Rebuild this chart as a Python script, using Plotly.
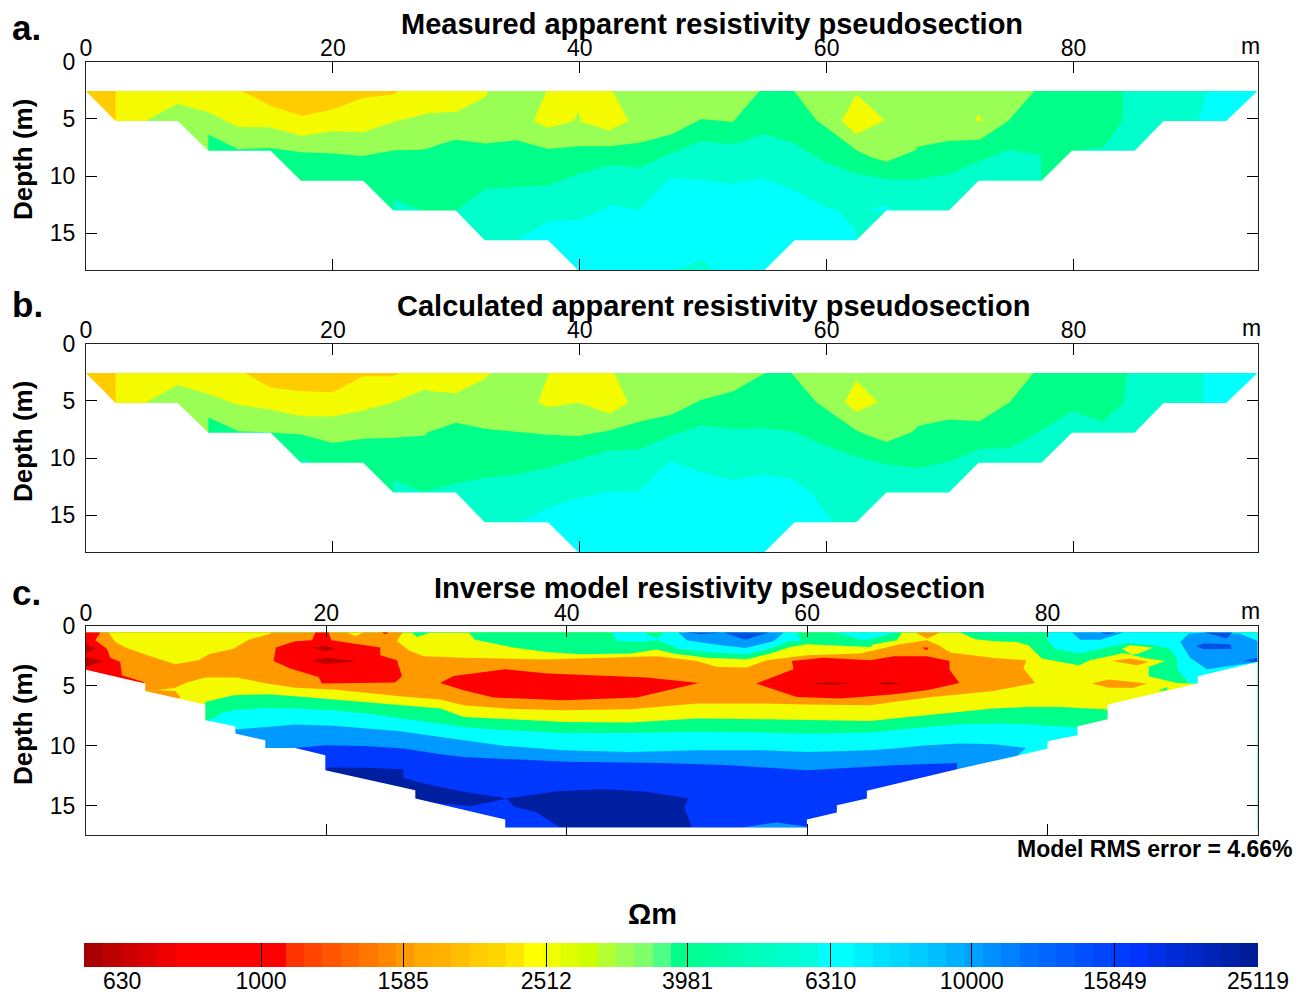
import plotly.graph_objects as go

W, H = 1303, 994
ORANGE_A = "#FFCC00"; YELLOW = "#F4FB00"; LIME = "#99FF55"; GREEN = "#00FF88"; TEAL = "#00FFCC"; CYAN = "#00FFFF"
ORANGE = "#FF9900"; RED = "#FF0000"; DKRED = "#BB0000"; SKY = "#0099FF"; BLUE = "#0038FF"; DKBLUE = "#001EA0"; MIDBLUE = "#0050E8"

XTICKS = [0, 20, 40, 60, 80]
YTICKS = [0, 5, 10, 15]
TITLES = ["Measured apparent resistivity pseudosection", "Calculated apparent resistivity pseudosection", "Inverse model resistivity pseudosection"]

# ---- panel a: band outlines, (distance m, depth m)
AB_ENVELOPE = [(-1,2.58),(0,2.58),(2.4,5.2),(7.43,5.2),(9.91,7.8),(14.96,7.8),(17.41,10.4),(22.46,10.4),(24.89,13),(29.96,13),(32.3,15.6),(37.43,15.6),(39.86,18.2),(54.97,18.2),(57.4,15.6),(62.4,15.6),(64.83,13),(69.9,13),(72.3,10.4),(77.4,10.4),(79.86,7.8),(84.94,7.8),(87.3,5.2),(92.36,5.2),(94.9,2.58),(96,2.58),(96,19),(-1,19)]
AB_BASE = [(0,2.58),(94.9,2.58),(94.9,18.2),(0,18.2)]
A_TEAL = [(0,2.58),(0,18.2),(34.87,18.2),(34.87,15.63),(37.43,13.98),(39.86,13.83),(41.9,12.96),(42.4,12.53),(44.85,12.96),(47.3,10.2),(49.85,10.35),(52.4,10.7),(54.84,10.2),(57.27,11.16),(59.83,12.67),(60.9,13.02),(62.4,14.7),(62.4,18.2),(90.12,18.2),(90.12,5.19),(90.88,2.58)]
A_CYAN_SLIVER = [(63.1,13.02),(64.8,12.6),(65.5,13.02)]
A_TEAL_BOTTOM = [(47.8,18.2),(49.9,17.3),(50.8,18.2)]
A_GREEN = [(0,2.58),(0,18.2),(29.96,18.2),(29.96,13.02),(32.3,11.13),(34.87,10.93),(37.43,10.82),(39.86,9.83),(42.42,9.05),(44.85,9.25),(47.3,8.03),(49.85,6.96),(52.4,7.22),(54.84,6.35),(57.27,7.1),(59.83,8.76),(62.4,9.77),(64.83,10.27),(67.4,10.27),(69.96,9.83),(72.4,8.7),(74.8,7.69),(77.38,8.18),(77.38,18.2),(79.86,18.2),(79.86,7.8),(82.37,7.48),(83.99,5.19),(83.99,2.58)]
A_TEAL_LEFT = [(24.9,12),(27.2,13),(24.9,13)]
A_LIME_L = [(0,2.58),(0,18.2),(9.91,18.2),(9.91,6.38),(12.34,7.66),(14.9,7.54),(17.47,7.92),(19.95,8.03),(22.46,8.24),(24.89,7.77),(27.45,7.69),(28.67,7.22),(29.96,6.82),(32.3,7.16),(34.87,6.87),(37.43,7.63),(39.86,7.4),(42.42,7.4),(44.85,7.1),(47.42,6.38),(49.85,5.02),(52.4,5.28),(54.57,2.58)]
A_LIME_R = [(57.35,2.58),(59.16,5.13),(59.83,5.63),(62.4,7.74),(63.48,8.32),(64.83,8.76),(67.12,7.8),(67.4,7.45),(69.82,6.93),(72.4,6.82),(74.68,5.22),(76.84,2.58)]
A_YELLOW = [(0,2.58),(0,18.2),(4.78,18.2),(4.78,5.19),(7.43,3.69),(9.91,4.44),(12.34,5.71),(14.9,5.74),(17.47,6.5),(19.95,6.09),(22.46,6.15),(24.89,5.28),(27.45,4.61),(27.85,4.5),(29.96,4.41),(32.3,3.11),(32.65,2.58)]
A_YEL_1 = [(37.3,2.58),(36.27,5.19),(37.43,5.8),(39.51,5.19),(39.86,4.41),(40.13,5.28),(42.37,6.0),(43.96,5.19),(42.64,2.58)]
A_YEL_2 = [(62.4,2.87),(61.2,5.19),(62.4,6.35),(64.7,5.13)]
A_YEL_3 = [(72.0,5.19),(72.3,4.6),(72.6,5.25)]
A_OR_EDGE = [(0,2.58),(2.4,2.58),(2.4,5.2),(0,5.2)]
A_OR_TOP = [(12.6,2.58),(14.9,3.83),(17.5,4.75),(19.95,4.2),(22.5,3.16),(24.9,2.87),(25.3,2.58)]

# ---- panel b
B_TEAL = [(0,2.58),(0,18.2),(35.27,18.2),(35.27,15.56),(37.43,14.34),(39.86,13.53),(42.42,12.95),(44.85,12.89),(47.3,10.26),(49.85,11.27),(52.4,11.94),(54.84,11.44),(57.27,11.85),(58.75,13.01),(60.43,15.56),(60.43,18.2),(90.47,18.2),(90.47,5.18),(90.52,2.58)]
B_GREEN = [(0,2.58),(0,18.2),(24.89,18.2),(24.89,11.94),(27.3,12.95),(28.67,12.57),(29.96,12.23),(32.3,11.73),(34.87,11.44),(37.43,10.86),(39.86,10.11),(42.42,9.33),(44.85,9.24),(47.3,8.08),(49.85,7.15),(52.4,7.44),(54.84,7.39),(57.27,7.65),(59.83,8.89),(62.4,9.91),(64.83,10.54),(67.4,10.86),(69.96,10.28),(72.4,9.18),(74.82,9.13),(77.38,7.59),(79.86,5.91),(82.37,6.86),(84.07,5.18),(84.32,2.58)]
B_TEAL_LEFT = [(17.47,9.99),(18.28,10.34),(17.47,10.4)]
B_LIME_L = [(0,2.58),(0,18.2),(9.91,18.2),(9.91,6.43),(12.34,7.65),(14.9,7.76),(17.47,7.94),(19.95,8.69),(22.46,8.31),(24.89,8.23),(27.45,8.02),(27.72,7.73),(28.67,7.39),(29.96,6.92),(32.3,7.44),(34.87,7.73),(37.43,7.97),(39.86,8.08),(42.42,7.59),(44.85,6.81),(47.42,6.23),(49.85,4.92),(52.4,4.2),(54.84,2.69),(55.1,2.58)]
B_LIME_R = [(57.13,2.58),(57.35,2.86),(59.16,5.12),(62.4,7.59),(63.48,8.08),(64.83,8.6),(66.93,7.73),(67.4,7.21),(69.9,6.63),(72.4,6.78),(74.82,5.12),(76.76,2.58)]
B_YELLOW = [(0,2.58),(0,18.2),(4.78,18.2),(4.78,5.18),(7.43,3.62),(9.91,4.4),(12.34,5.36),(14.9,5.76),(17.47,6.34),(19.95,6.37),(22.46,5.85),(24.89,5.12),(27.45,4.02),(27.85,4.14),(29.96,4.34),(32.3,3.1),(32.79,2.58)]
B_YEL_1 = [(37.51,2.58),(36.62,5.12),(37.43,5.56),(39.86,5.18),(42.42,6.14),(43.91,5.18),(42.78,2.58)]
B_YEL_2 = [(62.4,3.24),(61.45,5.12),(62.4,5.99),(64.15,5.12)]
B_OR_TOP = [(12.88,2.58),(14.9,3.82),(17.33,4.17),(19.95,4.26),(22.46,2.86),(24.89,2.86),(25.35,2.58)]

# ---- panel c
C_ENVELOPE = [(-1,3.64),(0,3.64),(4.93,4.8),(4.93,5.42),(9.92,6.55),(9.92,7.86),(12.42,8.36),(12.42,8.97),(14.92,9.53),(14.92,10.17),(17.41,10.17),(19.91,10.78),(19.91,12.03),(27.4,13.69),(27.4,14.39),(34.88,16.14),(34.88,16.8),(59.98,16.8),(59.98,16.14),(62.47,15.55),(62.47,14.94),(64.97,14.39),(64.97,13.75),(72.46,11.94),(77.3,10.86),(80,10.22),(80,9.61),(82.5,9.11),(82.5,8.36),(85,7.78),(85,6.55),(92.5,4.8),(92.5,4.19),(97.47,3.0),(99,3.0),(99,18.5),(-1,18.5)]
C_BASE = [(0,.55),(97.47,.55),(97.47,17),(0,17)]
C_DKBLUE_L = [(19.91,12.03),(20.19,11.8),(23.37,11.83),(26.43,11.97),(26.37,12.64),(27.54,13.0),(29.48,13.42),(30.03,13.55),(31.41,13.83),(35.02,14.39),(31.97,15.03),(28.64,14.72),(27.4,14.39),(27.4,17),(19.91,17)]
C_DKBLUE_M = [(35.02,14.39),(39.18,13.78),(43.06,13.61),(46.67,13.83),(50.13,14.39),(49.77,15.08),(50.41,16.8),(39.46,16.8),(37.51,15.55),(35.57,15.03)]
C_SKY_BOTTOM = [(54.57,16.8),(57.48,16.39),(59.98,16.75),(59.98,16.8)]
C_SKY = [(0,.55),(0,17),(17.41,17),(17.41,10.17),(19.91,9.94),(23.1,10.0),(26.43,10.22),(29.48,10.69),(31.41,10.92),(34.88,11.11),(40.01,11.33),(48.05,11.42),(53.6,11.61),(59.98,12.03),(65.25,11.75),(67.19,11.61),(72.46,11.42),(72.46,17),(97.47,17),(97.47,.55)]
C_CYAN = [(0,.55),(0,17),(12.42,17),(12.42,8.64),(15.05,8.42),(17.41,8.22),(20.6,8.33),(23.37,8.55),(26.15,8.78),(29.48,9.25),(31.41,9.53),(34.88,10.0),(39.73,10.36),(45.28,10.5),(50.83,10.36),(56.37,10.36),(59.98,10.5),(65.25,10.36),(67.19,10.22),(69.97,9.94),(72.74,9.8),(75.51,9.86),(78.2,10.17),(77.45,10.86),(77.45,17),(97.47,17),(97.47,.55)]
C_GREEN = [(0,.55),(0,17),(9.92,17),(9.92,7.86),(10.62,7.72),(11.31,7.22),(12.28,7.03),(15.05,6.83),(17.41,6.89),(20.6,7.03),(23.37,7.3),(26.15,7.72),(29.48,8.14),(31.41,8.42),(34.88,8.69),(39.73,8.92),(45.28,8.92),(50.83,8.83),(56.37,8.89),(59.98,8.97),(65.25,8.89),(67.19,8.69),(69.97,8.42),(72.74,8.19),(75.51,8.14),(78.29,8.19),(82.5,8.47),(82.5,17),(97.47,17),(97.47,.55)]
C_CYAN_TR = [(80,.55),(80,1.19),(80.64,1.89),(82.58,2.3),(84.39,1.89),(86.6,1.42),(88.82,1.61),(90.21,1.89),(90.77,2.72),(90.77,3.55),(91.74,4.8),(92.5,4.8),(92.5,17),(97.47,17),(97.47,.55)]
C_SKY_TR = [(91.04,1.33),(91.74,.64),(93.26,.55),(96.03,.64),(97.47,1.25),(97.47,3.0),(93.26,3.61),(91.87,2.64)]
C_SKY_T2 = [(82.03,.55),(82.72,1.14),(84.39,1.14),(86.33,.55)]
C_BLUE_T2 = [(84.39,.55),(85.08,.69),(85.63,.55)]
C_BLUE_TR1 = [(93.12,.55),(94.92,1.05),(95.34,.55)]
C_BLUE_TR2 = [(92.37,1.67),(92.98,1.47),(95.2,1.53),(95.34,1.89),(92.98,1.94)]
C_BLUE_TR3 = [(96.31,2.92),(97.47,2.64),(97.47,3.0)]
C_YELLOW = [(0,.55),(0,17),(9.92,17),(9.92,6.33),(12.28,5.78),(15.05,5.69),(17.41,5.86),(20.6,6.14),(23.37,6.33),(26.15,6.61),(29.48,6.89),(31.41,7.58),(34.88,7.78),(39.73,8.0),(45.28,8.05),(50.83,7.72),(56.37,7.78),(59.98,7.86),(65.25,7.92),(67.19,7.72),(69.97,7.44),(72.74,7.11),(75.51,6.89),(78.29,6.75),(81.06,6.75),(85,6.97),(85.5,12),(92.5,12),(92.5,4.8),(91.74,4.8),(90.77,4.75),(88.41,4.19),(88.41,3.42),(89.79,2.92),(87.99,2.64),(86.33,2.25),(83.55,2.86),(82.58,3.28),(79.53,2.72),(78.98,2.17),(78.42,1.61),(77.45,1.33),(75.65,1.28),(73.99,1.11),(72.74,.55)]
C_YEL_ISL = [(86.19,1.89),(86.88,1.61),(88.82,1.8),(87.58,2.3),(87.02,2.39)]
C_GREEN_M = [(31.83,.55),(32.38,1.14),(35.57,1.8),(38.35,2.17),(41.12,2.36),(45.28,2.3),(47.5,1.97),(48.88,2.3),(51.66,2.64),(54.99,2.78),(56.93,2.3),(58.59,1.75),(59.98,1.53),(62.75,1.67),(65.25,1.75),(65.53,1.53),(67.47,1.19),(67.89,.55)]
C_CYAN_M = [(43.75,.55),(44.17,1.25),(46.39,1.33),(47.5,1.14),(49.3,1.89),(52.21,2.22),(54.99,2.36),(57.2,1.8),(58.45,1.28),(59.5,1.25),(59.14,.55),(48.05,.55),(47.5,1.05),(46.39,.55)]
C_SKY_M = [(49.3,.55),(49.99,1.19),(52.21,1.53),(54.85,1.83),(57.2,1.28),(58.04,.55)]
C_BLUE_M1 = [(49.85,.55),(51.1,.69),(53.04,.55)]
C_BLUE_M2 = [(53.04,.55),(54.85,1.14),(56.79,.55)]
C_CYAN_T3 = [(62.2,.55),(63.58,.86),(64.42,1.14),(64.97,1.14),(67.47,.55)]
C_GREEN_TIP = [(27.12,.55),(27.54,.92),(28.64,.55)]
C_GREEN_LOW = [(89.18,5.42),(89.93,5.08),(89.99,5.36)]
C_ORANGE = [(0,.55),(0,17),(4.93,17),(4.93,5.42),(5.9,5.36),(7.43,5.14),(8.4,4.72),(9.92,4.3),(12.56,4.3),(15.05,4.8),(17.41,5.14),(20.6,5.3),(26.15,5.86),(29.48,6.14),(31.41,6.61),(34.88,6.89),(39.73,7.03),(45.28,6.94),(50.83,6.47),(56.37,6.47),(59.98,6.55),(65.25,6.61),(67.19,6.33),(69.97,5.97),(72.74,5.69),(75.51,5.42),(78.98,4.75),(78.0,3.55),(78.23,2.86),(75.51,2.67),(71.91,2.22),(70.94,1.61),(69.97,1.19),(67.75,1.53),(64.42,2.3),(59.98,2.44),(56.65,2.86),(54.99,3.47),(52.49,3.42),(50.83,2.92),(47.5,2.53),(38.35,2.8),(31.41,2.64),(28.64,2.58),(28.09,2.53),(26.84,2.03),(25.87,1.25),(26.15,.78),(26.43,.55)]
C_OR_WEDGE = [(4.93,5.42),(5.9,5.36),(7.43,5.42),(7.85,5.94),(4.93,8)]
C_OR_TIP = [(69.0,.55),(69.97,1.05),(71.08,.55)]
C_OR_ISL1 = [(85.36,2.92),(86.88,2.72),(88.41,3.0),(87.44,3.28)]
C_OR_ISL2 = [(83.69,4.8),(85.08,4.47),(88.27,4.8),(87.16,5.14),(85.08,5.14)]
C_YEL_L = [(1.88,.55),(2.44,1.33),(3.27,1.8),(5.35,2.53),(7.43,3.19),(9.37,2.86),(10.2,2.36),(12.28,1.89),(13.53,1.14),(15.33,.64),(15.39,.55)]
C_YEL_T = [(21.71,.55),(22.4,.86),(23.1,.55)]
C_RED_L = [(0,.55),(1.19,.55),(.77,1.19),(1.74,1.89),(2.02,2.64),(2.85,3.0),(2.99,4.11),(4.79,4.67),(4.93,8),(0,8)]
C_DK_L1 = [(0,1.53),(.86,1.89),(0,2.25)]
C_DK_L2 = [(0,2.58),(1.47,2.92),(0,3.42)]
C_RED_C = [(18.8,1.19),(19.08,.55),(20.19,.55),(20.41,1.19),(24.48,1.8),(24.48,2.44),(25.87,2.86),(26.29,4.19),(25.73,4.72),(19.63,4.8),(19.35,4.25),(17.0,3.55),(15.61,2.92),(15.8,1.8),(17.41,1.28)]
C_DK_C1 = [(18.8,1.8),(19.91,1.67),(20.82,1.89),(19.91,2.11)]
C_DK_C2 = [(18.8,2.86),(19.91,2.64),(22.68,2.92),(19.91,3.19)]
C_RED_TIP = [(24.62,.55),(24.9,.69),(25.18,.55)]
C_RED_M = [(29.47,4.75),(30.58,4.17),(34.88,3.61),(38.35,3.97),(46.67,4.3),(50.96,4.75),(45.83,5.97),(39.73,6.19),(33.91,5.97),(31.41,5.36)]
C_RED_R = [(55.76,4.8),(58.87,3.61),(58.73,2.92),(61.36,2.64),(65.25,2.86),(67.19,2.53),(69.97,2.53),(71.85,2.92),(71.85,3.64),(72.66,4.75),(69.97,5.36),(67.19,5.69),(64.42,5.92),(62.75,6.05),(59.14,5.92)]
C_DK_R1 = [(59.7,4.8),(61.92,4.69),(64.14,4.8),(61.92,4.89)]
C_DK_R2 = [(65.53,4.8),(66.78,4.67),(68.03,4.8),(66.78,4.89)]
C_RED_DOT = [(69.55,1.8),(70.1,1.8),(69.97,2.03)]

# ---- colour scale
SCALE_COLORS = ["#A80000","#BB0000","#CC0000","#DD0000","#EE0000","#FF0000","#FF0000","#FF0000","#FF0000","#FF0000","#FF0000",
    "#FF3300","#FF4400","#FF5500","#FF6600","#FF7700","#FF8800","#FF9900","#FFAA00","#FFB000","#FFBF00","#FFCC00","#FFD500","#FFE600","#FFFF00",
    "#F0FF00","#DFFF00","#CCFF00","#B3FF33","#99FF55","#7FFF6A","#4DFF88","#00FF88","#00FF94","#00FFA0","#00FFAC","#00FFB8","#00FFC4","#00FFD0","#00FFDC",
    "#00FFFF","#00FFFF","#00F0FF","#00E0FF","#00D8FF","#00CCFF","#00C0FF","#00B0FF","#00A0FF","#0090FF","#0080FF","#0070FF","#0066FF","#005CFF","#0050FF",
    "#0046FF","#003CFF","#0033FF","#0030E8","#002CD8","#0028C8","#0024B8","#0020A8","#001C98"]
SCALE_TICK_POS = [0, 9.65, 17.4, 25.2, 32.9, 40.7, 48.4, 56.2, 64]
SCALE_TICK_TEXT = ["", "1000", "1585", "2512", "3981", "6310", "10000", "15849", "25119"]
SCALE_LABEL_FIRST = "630"

PANEL_A = [(AB_BASE,CYAN),(A_TEAL,TEAL),(A_CYAN_SLIVER,CYAN),(A_TEAL_BOTTOM,TEAL),(A_GREEN,GREEN),(A_TEAL_LEFT,TEAL),(A_LIME_L,LIME),(A_LIME_R,LIME),
           (A_YELLOW,YELLOW),(A_YEL_1,YELLOW),(A_YEL_2,YELLOW),(A_YEL_3,YELLOW),(A_OR_EDGE,ORANGE_A),(A_OR_TOP,ORANGE_A),(AB_ENVELOPE,"#FFFFFF")]
PANEL_B = [(AB_BASE,CYAN),(B_TEAL,TEAL),(B_GREEN,GREEN),(B_TEAL_LEFT,TEAL),(B_LIME_L,LIME),(B_LIME_R,LIME),(B_YELLOW,YELLOW),(B_YEL_1,YELLOW),(B_YEL_2,YELLOW),
           (A_OR_EDGE,ORANGE_A),(B_OR_TOP,ORANGE_A),(AB_ENVELOPE,"#FFFFFF")]
PANEL_C = [(C_BASE,BLUE),(C_DKBLUE_L,DKBLUE),(C_DKBLUE_M,DKBLUE),(C_SKY_BOTTOM,SKY),(C_SKY,SKY),(C_CYAN,CYAN),(C_GREEN,GREEN),(C_CYAN_TR,CYAN),(C_SKY_TR,SKY),(C_SKY_T2,SKY),
           (C_BLUE_T2,MIDBLUE),(C_BLUE_TR1,MIDBLUE),(C_BLUE_TR2,MIDBLUE),(C_BLUE_TR3,MIDBLUE),(C_YELLOW,YELLOW),(C_YEL_ISL,YELLOW),(C_GREEN_M,GREEN),(C_CYAN_M,CYAN),(C_SKY_M,SKY),
           (C_BLUE_M1,MIDBLUE),(C_BLUE_M2,MIDBLUE),(C_CYAN_T3,CYAN),(C_GREEN_TIP,GREEN),(C_GREEN_LOW,GREEN),(C_ORANGE,ORANGE),(C_OR_WEDGE,ORANGE),(C_OR_TIP,ORANGE),(C_OR_ISL1,ORANGE),(C_OR_ISL2,ORANGE),
           (C_YEL_L,YELLOW),(C_YEL_T,YELLOW),(C_RED_L,RED),(C_DK_L1,DKRED),(C_DK_L2,DKRED),(C_RED_C,RED),(C_DK_C1,DKRED),(C_DK_C2,DKRED),(C_RED_TIP,RED),(C_RED_M,RED),(C_RED_R,RED),
           (C_DK_R1,DKRED),(C_DK_R2,DKRED),(C_RED_DOT,RED),(C_ENVELOPE,"#FFFFFF")]

FONT = "Liberation Sans"
fig = go.Figure()

def add_panel(polys, n):
    sfx = "" if n == 1 else str(n)
    for pts, col in polys:
        fig.add_trace(go.Scatter(x=[p[0] for p in pts], y=[p[1] for p in pts], mode="lines", fill="toself",
                                 fillcolor=col, line=dict(width=0), hoverinfo="skip", showlegend=False,
                                 xaxis="x"+sfx, yaxis="y"+sfx))

add_panel(PANEL_A, 1)
add_panel(PANEL_B, 2)
add_panel(PANEL_C, 3)

fig.add_trace(go.Heatmap(z=[list(range(len(SCALE_COLORS)))], x=[i + 0.5 for i in range(len(SCALE_COLORS))], y=[0],
                         colorscale=[[i / (len(SCALE_COLORS) - 1), c] for i, c in enumerate(SCALE_COLORS)],
                         showscale=False, hoverinfo="skip", xaxis="x4", yaxis="y4"))

def xdom(a, b): return [a / W, b / W]
def ydom(t, b): return [1 - b / H, 1 - t / H]

def frame_axes(xmax, ymax, xd, yd, anchor_x, anchor_y):
    xa = dict(domain=xd, range=[0, xmax], side="top", anchor=anchor_y, tickmode="array", tickvals=XTICKS, automargin=False,
              ticks="inside", ticklen=11, tickwidth=1, tickcolor="#000", showline=True, linecolor="#222", linewidth=1,
              mirror="ticks", showgrid=False, zeroline=False, tickfont=dict(family=FONT, size=23, color="#000"), ticklabelstandoff=-5)
    ya = dict(domain=yd, range=[ymax, 0], anchor=anchor_x, tickmode="array", tickvals=YTICKS, automargin=False,
              ticks="inside", ticklen=11, tickwidth=1, tickcolor="#000", showline=True, linecolor="#222", linewidth=1,
              mirror="ticks", showgrid=False, zeroline=False, tickfont=dict(family=FONT, size=23, color="#000"), ticklabelstandoff=5)
    return xa, ya

xa1, ya1 = frame_axes(94.9, 18.2, xdom(86, 1257.5), ydom(61.5, 270), "x", "y")
xa2, ya2 = frame_axes(94.9, 18.2, xdom(86, 1257.5), ydom(343.5, 552), "x2", "y2")
xa3, ya3 = frame_axes(97.47, 17.39, xdom(86, 1257.5), ydom(626, 834.5), "x3", "y3")

texts = []
def add_text(px, py, s, size, bold=True, angle=0, xanchor="center"):
    texts.append(dict(x=px / W, y=1 - py / H, xref="paper", yref="paper", text="<b>%s</b>" % s if bold else s,
                      showarrow=False, xanchor=xanchor, yanchor="middle", textangle=angle,
                      font=dict(family=FONT, size=size, color="#000")))

add_text(712, 24, TITLES[0], 29)
add_text(713, 306, TITLES[1], 29)
add_text(709, 588, TITLES[2], 29)
add_text(10, 27, "a.", 35, xanchor="left")
add_text(10, 304, "b.", 35, xanchor="left")
add_text(10, 592, "c.", 35, xanchor="left")
add_text(1250, 46, "m", 23, bold=False)
add_text(1251, 328, "m", 23, bold=False)
add_text(1250, 611, "m", 23, bold=False)
add_text(23, 160, "Depth (m)", 26, angle=-90)
add_text(23, 442, "Depth (m)", 26, angle=-90)
add_text(23, 725, "Depth (m)", 26, angle=-90)
add_text(1294, 849, "Model RMS error = 4.66%", 23, xanchor="right")
add_text(652, 914, "Ωm", 29)
add_text(122, 981, SCALE_LABEL_FIRST, 23, bold=False)

fig.update_layout(
    width=W, height=H, margin=dict(l=0, r=0, t=0, b=0), paper_bgcolor="#fff", plot_bgcolor="#fff", showlegend=False,
    xaxis=xa1, yaxis=ya1, xaxis2=xa2, yaxis2=ya2, xaxis3=xa3, yaxis3=ya3,
    xaxis4=dict(domain=xdom(84, 1258), range=[0, 64], anchor="y4", tickmode="array", tickvals=SCALE_TICK_POS, ticktext=SCALE_TICK_TEXT, automargin=False,
                ticks="inside", ticklen=24, tickwidth=1, tickcolor="#000", showgrid=False, zeroline=False, showline=False,
                tickfont=dict(family=FONT, size=23, color="#000"), ticklabelstandoff=-2),
    yaxis4=dict(domain=ydom(943, 967), anchor="x4", visible=False, range=[-0.5, 0.5], automargin=False),
    annotations=texts,
)
fig.write_html("out.html", config=dict(displayModeBar=False), post_script="document.body.style.margin='0';document.body.style.overflow='hidden';")
